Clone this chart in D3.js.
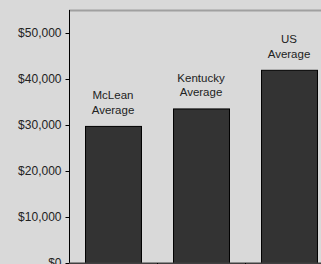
<!DOCTYPE html>
<html>
<head>
<meta charset="utf-8">
<script src="https://cdn.jsdelivr.net/npm/d3@7"></script>
<style>
    html, body { margin: 0; padding: 0; background: #d9d9d9; }
    svg { display: block; }
</style>
</head>
<body>
<div id="chart"></div>
<script>
// Data
const categories = ["McLean Average", "Kentucky Average", "US Average"];
const incomes = [29800, 33600, 42000];
const tickValues = [0, 10000, 20000, 30000, 40000, 50000];

// Size data
const w = 321, h = 264;
const m = { top: 10, right: -12, bottom: 1, left: 69 };
const font = "Liberation Sans, Arial, sans-serif";

const svg = d3.select("#chart")
    .append("svg")
    .attr("width", w)
    .attr("height", h);

// Background
svg.append("rect")
    .attr("width", w)
    .attr("height", h)
    .attr("fill", "#d9d9d9");

// Scales
const x = d3.scaleBand()
    .domain(categories)
    .range([m.left, w - m.right])
    .paddingInner(0.364)
    .paddingOuter(0.182);
const y = d3.scaleLinear()
    .domain([0, 55000])
    .range([h - m.bottom, m.top]);

// Top border of the plot
svg.append("line")
    .attr("x1", m.left)
    .attr("x2", w)
    .attr("y1", m.top + 0.5)
    .attr("y2", m.top + 0.5)
    .attr("stroke", "#a0a0a0")
    .attr("stroke-width", 2);

// Bars
svg.selectAll("rect.bar")
    .data(categories)
    .join("rect")
    .attr("class", "bar")
    .attr("x", (d) => x(d) + 0.5)
    .attr("y", (d, i) => y(incomes[i]) + 0.5)
    .attr("width", x.bandwidth())
    .attr("height", (d, i) => y(0) - y(incomes[i]))
    .attr("fill", "#333333")
    .attr("stroke", "#000")
    .attr("stroke-width", 1);

// Bar labels
svg.selectAll("text.lbl")
    .data(categories)
    .join("text")
    .attr("class", "lbl")
    .attr("text-anchor", "middle")
    .attr("font-family", font)
    .attr("font-size", 11.5)
    .attr("fill", "#222")
    .each(function (d, i) {
        const words = d.split(" ");
        const cx = x(d) + x.bandwidth() / 2;
        const base = y(incomes[i]) - 12;
        d3.select(this).selectAll("tspan")
            .data(words)
            .join("tspan")
            .attr("x", cx)
            .attr("y", (wd, j) => base - (words.length - 1 - j) * 14.5)
            .text((wd) => wd);
    });

// Y-axis
const yAxis = svg.append("g")
    .attr("transform", `translate(${m.left + 0.5}, 0)`)
    .call(d3.axisLeft(y).tickValues(tickValues).tickSize(4).tickPadding(4)
        .tickFormat((d) => "$" + d3.format(",")(d)));
yAxis.select(".domain").attr("stroke", "#000").attr("d", `M0,${m.top}V${h - m.bottom}`);
yAxis.selectAll("line").attr("stroke", "#000");
yAxis.selectAll("text")
    .attr("font-family", font)
    .attr("font-size", 12)
    .attr("fill", "#222");

// X-axis baseline and category separators
svg.append("line")
    .attr("x1", m.left)
    .attr("x2", w)
    .attr("y1", y(0) + 0.5)
    .attr("y2", y(0) + 0.5)
    .attr("stroke", "#404040")
    .attr("stroke-width", 2);
svg.selectAll("line.sep")
    .data(categories.slice(1))
    .join("line")
    .attr("class", "sep")
    .attr("x1", (d) => Math.round(x(d) - x.step() * x.paddingInner() / 2) + 0.5)
    .attr("x2", (d) => Math.round(x(d) - x.step() * x.paddingInner() / 2) + 0.5)
    .attr("y1", y(0))
    .attr("y2", h)
    .attr("stroke", "#000");
</script>
</body>
</html>
